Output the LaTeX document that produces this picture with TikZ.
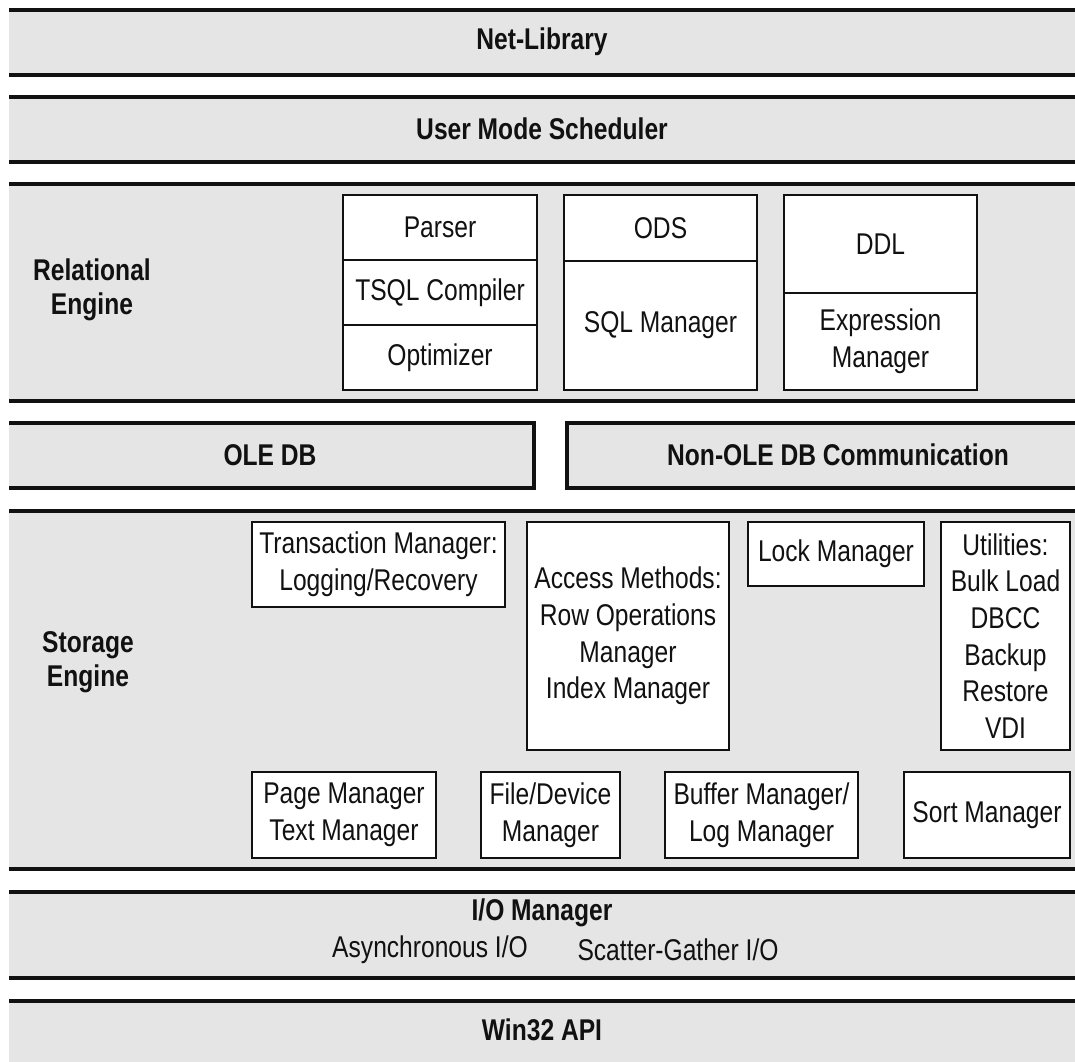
\documentclass[tikz,border=0pt]{standalone}
\usepackage{fontspec}
\setmainfont{Liberation Sans}
\newfontfamily\narrowsans[FakeStretch=0.82]{Liberation Sans}
\definecolor{bandgray}{HTML}{E5E5E5}
\definecolor{inkblack}{HTML}{111111}
\begin{document}
\begin{tikzpicture}[x=1pt,y=-1pt,
  band/.style={fill=bandgray, draw=none, inner sep=0pt, outer sep=0pt, anchor=north west},
  bandline/.style={draw=inkblack, line width=3.2pt},
  compbox/.style={draw=inkblack, fill=white, line width=2.7pt, inner sep=0pt, outer sep=0pt,
    anchor=north west, align=center, text=inkblack,
    font=\narrowsans\fontsize{30}{36.7}\selectfont},
  plain/.style={inner sep=0pt, align=center, text=inkblack,
    font=\narrowsans\fontsize{30}{36.7}\selectfont},
  title/.style={inner sep=0pt, align=center, text=inkblack,
    font=\narrowsans\bfseries\fontsize{30}{34}\selectfont}]

\clip (0,0) rectangle (1075,1061);
\fill[white] (0,0) rectangle (1075,1061);

% ---- horizontal layers ----
\node[band, minimum width=1100pt, minimum height=65pt]  (net)     at (9,10)   {};
\node[band, minimum width=1100pt, minimum height=65pt]  (ums)     at (9,97)   {};
\node[band, minimum width=1100pt, minimum height=217pt] (rel)     at (9,184)  {};
\node[band, minimum width=525pt,  minimum height=65pt]  (oledb)   at (9,423)  {};
\node[band, minimum width=540pt,  minimum height=65pt]  (nonole)  at (567,423) {};
\node[band, minimum width=1100pt, minimum height=358pt] (storage) at (9,511)  {};
\node[band, minimum width=1100pt, minimum height=86pt]  (io)      at (9,892)  {};
\node[band, minimum width=1100pt, minimum height=80pt]  (win)     at (9,1001) {};

\foreach \b in {net,ums,rel,storage,io}{
  \draw[bandline] (\b.north west) -- (\b.north east);
  \draw[bandline] (\b.south west) -- (\b.south east);
}
\draw[bandline] (win.north west) -- (win.north east);
\draw[bandline, line join=miter] (oledb.north west) -- (oledb.north east)
  -- (oledb.south east) -- (oledb.south west);
\draw[bandline, line join=miter] (nonole.north east) -- (nonole.north west)
  -- (nonole.south west) -- (nonole.south east);

% ---- layer titles ----
\node[title] (netlbl)  at (542,42)  {Net-Library};
\node[title] (umslbl)  at (542,129) {User Mode Scheduler};
\node[title] (rellbl)  at (92,290)  {Relational\\Engine};
\node[title] (olelbl)  at (270,455) {OLE DB};
\node[title] (nonlbl)  at (838,455) {Non-OLE DB Communication};
\node[title] (stolbl)  at (88,662)  {Storage\\Engine};
\node[title] (iolbl)   at (542,913) {I/O Manager};
\node[plain] (async)   at (430,950) {Asynchronous I/O};
\node[plain] (scatter) at (678,950) {Scatter-Gather I/O};
\node[title] (winlbl)  at (542,1030) {Win32 API};

% ---- relational engine components ----
\node[compbox, minimum width=194pt, minimum height=65pt]  (parser)  at (343,195) {Parser};
\node[compbox, minimum width=194pt, minimum height=65pt]  (tsql)    at (343,260) {TSQL Compiler};
\node[compbox, minimum width=194pt, minimum height=65pt]  (optim)   at (343,325) {Optimizer};
\node[compbox, minimum width=193pt, minimum height=66pt]  (ods)     at (564,195) {ODS};
\node[compbox, minimum width=193pt, minimum height=129pt] (sqlmgr)  at (564,261) {SQL Manager};
\node[compbox, minimum width=193pt, minimum height=98pt]  (ddl)     at (784,195) {DDL};
\node[compbox, minimum width=193pt, minimum height=97pt]  (exprmgr) at (784,293) {Expression\\Manager};

% ---- storage engine components ----
\node[compbox, minimum width=253pt, minimum height=85pt]  (trans)  at (252,522) {Transaction Manager:\\Logging/Recovery};
\node[compbox, minimum width=202pt, minimum height=228pt] (access) at (527,522) {Access Methods:\\Row Operations\\Manager\\Index Manager};
\node[compbox, minimum width=176pt, minimum height=64pt]  (lock)   at (748,522) {Lock Manager};
\node[compbox, minimum width=129pt, minimum height=228pt] (util)   at (941,522) {Utilities:\\Bulk Load\\DBCC\\Backup\\Restore\\VDI};
\node[compbox, minimum width=184pt, minimum height=86pt]  (page)   at (252,772) {Page Manager\\Text Manager};
\node[compbox, minimum width=139pt, minimum height=86pt]  (file)   at (481,772) {File/Device\\Manager};
\node[compbox, minimum width=193pt, minimum height=86pt]  (buffer) at (665,772) {Buffer Manager/\\Log Manager};
\node[compbox, minimum width=166pt, minimum height=86pt]  (sort)   at (904,772) {Sort Manager};
\end{tikzpicture}
\end{document}
